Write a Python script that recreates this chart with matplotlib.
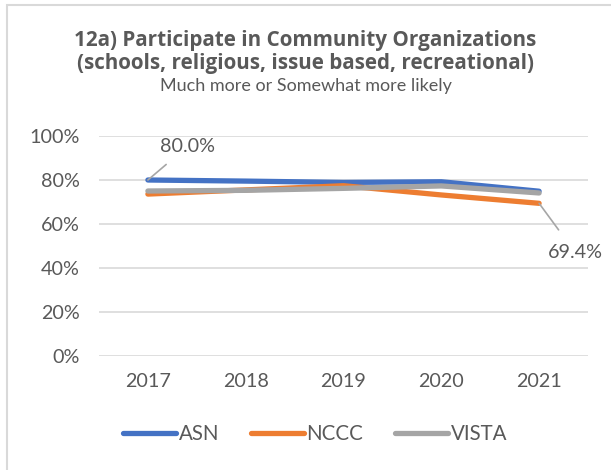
import matplotlib
matplotlib.use("Agg")
import matplotlib.pyplot as plt
from matplotlib.patches import Rectangle

# -----------------------------
# Data
# -----------------------------
years = ["2017", "2018", "2019", "2020", "2021"]
asn = [80.0, 79.5, 78.9, 79.2, 74.9]
nccc = [73.6, 75.5, 77.4, 73.2, 69.4]
vista = [75.0, 75.3, 76.2, 77.3, 74.1]
y_ticks = [0, 20, 40, 60, 80, 100]

title_main = "12a) Participate in Community Organizations\n(schools, religious, issue based, recreational)"
title_sub = "Much more or Somewhat more likely"

TEXT = "#595959"
GRID = "#D9D9D9"
COLORS = {"ASN": "#4472C4", "NCCC": "#ED7D31", "VISTA": "#A5A5A5"}

plt.rcParams["font.family"] = ["Lato", "DejaVu Sans"]

fig = plt.figure(figsize=(6.11, 4.70), dpi=100)
ax = fig.add_axes([99 / 611, 1 - 356 / 470, 489 / 611, 220 / 470])

x = list(range(len(years)))
for name, vals in [("ASN", asn), ("NCCC", nccc), ("VISTA", vista)]:
    ax.plot(x, vals, color=COLORS[name], lw=3.8, solid_capstyle="round",
            label=name)

ax.set_xlim(-0.5, len(years) - 0.5)
ax.set_ylim(0, 100)
ax.set_yticks(y_ticks)
ax.set_yticklabels([f"{t}%" for t in y_ticks])
ax.set_xticks(x)
ax.set_xticklabels(years)
ax.tick_params(axis="both", length=0, labelsize=14.2, colors=TEXT)
ax.tick_params(axis="y", pad=14)
ax.tick_params(axis="x", pad=12)
ax.grid(axis="y", color=GRID, lw=1.2)
ax.set_axisbelow(True)
for sp in ax.spines.values():
    sp.set_visible(False)

# data labels with leader lines
ax.annotate(f"{asn[0]:.1f}%", xy=(0, asn[0]), xytext=(40, 34),
            textcoords="offset pixels", ha="center", va="center",
            fontsize=14.2, color=TEXT,
            arrowprops=dict(arrowstyle="-", color="#A6A6A6", lw=1.2,
                            shrinkA=8, shrinkB=0))
ax.annotate(f"{nccc[-1]:.1f}%", xy=(4, nccc[-1]), xytext=(36, -49),
            textcoords="offset pixels", ha="center", va="center",
            fontsize=14.2, color=TEXT,
            arrowprops=dict(arrowstyle="-", color="#A6A6A6", lw=1.2,
                            shrinkA=10, shrinkB=0))

# titles
fig.text(0.5, 1 - 52 / 470, title_main, ha="center", va="center",
         fontsize=14.9, fontweight="bold", color=TEXT, linespacing=1.12,
         family=["Open Sans", "DejaVu Sans"])
fig.text(0.5, 1 - 86 / 470, title_sub, ha="center", va="center",
         fontsize=13, color=TEXT)

fig.legend(loc="center", bbox_to_anchor=(315 / 611, 1 - 434 / 470),
           ncol=3, frameon=False, fontsize=14.8, labelcolor=TEXT,
           handlelength=2.6, handletextpad=0.1, columnspacing=1.55)

# chart border (left/top visible, rest cropped)
fig.patches.append(Rectangle((7 / 611, -0.05), 1.2, 1 - 5 / 470 + 0.05,
                             transform=fig.transFigure, fill=False,
                             edgecolor="#D9D9D9", lw=1.5))

fig.savefig("out.png", dpi=100)
